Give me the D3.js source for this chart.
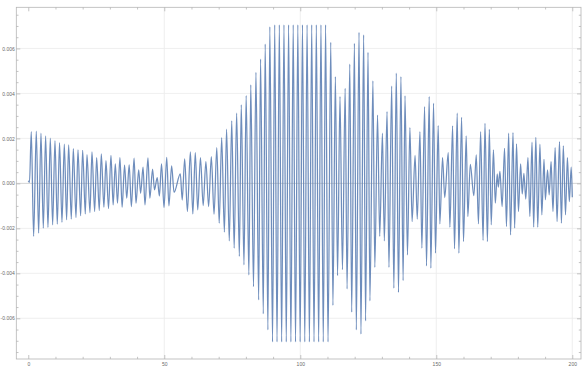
<!DOCTYPE html>
<html>
<head>
<meta charset="utf-8">
<script src="https://cdn.jsdelivr.net/npm/d3@7"></script>
<style>
  html, body { margin: 0; padding: 0; background: #fff; }
  svg { display: block; }
</style>
</head>
<body>
<div id="chart"></div>
<script>
// extrema of the signal (time, value)
const times = [
  0.00, 0.45, 1.11, 1.97, 2.95, 3.81, 4.67, 5.53, 6.38, 7.24, 8.10, 8.96, 9.82, 10.67, 11.50, 12.39,
  13.25, 14.10, 14.84, 15.82, 16.56, 17.54, 18.27, 19.25, 19.99, 20.97, 21.58, 22.68, 23.42, 24.40,
  25.14, 26.10, 26.85, 27.80, 28.57, 29.50, 30.40, 31.20, 32.00, 32.80, 33.70, 34.50, 35.40, 36.20,
  37.10, 37.90, 38.90, 39.60, 40.60, 41.30, 42.20, 42.90, 44.00, 44.70, 45.70, 46.40, 47.40, 48.20,
  49.00, 49.90, 50.90, 51.70, 52.70, 53.60, 55.90, 56.60, 57.50, 58.50, 59.60, 60.50, 61.40, 62.30,
  63.30, 64.30, 65.30, 66.30, 67.30, 68.30, 69.30, 70.20, 71.10, 72.10, 72.90, 73.90, 74.80, 75.70,
  76.60, 77.60, 78.30, 79.30, 80.10, 81.10, 81.80, 82.80, 83.70, 84.70, 85.40, 86.40, 87.10, 88.10,
  88.80, 89.80, 90.60, 91.45, 92.30, 93.15, 94.00, 94.85, 95.70, 96.55, 97.40, 98.25, 99.10, 99.95,
  100.80, 101.65, 102.50, 103.35, 104.20, 105.05, 105.90, 106.75, 107.60, 108.45, 109.30, 110.20,
  111.20, 112.00, 112.90, 113.70, 114.60, 115.50, 116.50, 117.20, 118.20, 118.90, 119.90, 120.60,
  121.60, 122.30, 123.30, 124.00, 124.90, 125.60, 126.70, 127.40, 128.40, 129.20, 130.20, 130.90,
  131.90, 132.60, 133.60, 134.40, 135.30, 136.10, 137.00, 137.80, 138.50, 139.40, 140.30, 141.10,
  142.20, 143.00, 144.00, 144.70, 145.70, 146.40, 147.40, 148.00, 149.00, 149.70, 150.70, 151.30,
  152.30, 153.10, 154.40, 155.00, 156.00, 156.70, 157.70, 158.30, 159.30, 160.00, 161.00, 161.60,
  162.50, 163.80, 164.70, 165.50, 166.30, 167.20, 167.90, 168.80, 169.50, 170.20, 171.00, 171.70,
  172.40, 172.80, 173.40, 174.20, 175.10, 175.80, 176.60, 177.30, 178.20, 178.80, 179.50, 180.20,
  181.00, 181.60, 182.20, 182.90, 183.70, 184.40, 185.20, 185.80, 186.60, 187.30, 188.10, 188.80,
  189.60, 190.10, 190.90, 191.50, 192.20, 192.90, 193.70, 194.40, 195.30, 196.00, 196.70, 197.50,
  198.20, 198.90, 199.60, 200.00
];
const values = [
  0.00012, 0.00005, 0.00230, -0.00236, 0.00232, -0.00221, 0.00223, -0.00199, 0.00211, -0.00196, 0.00201, -0.00184, 0.00190, -0.00181, 0.00181, -0.00173,
  0.00174, -0.00162, 0.00171, -0.00159, 0.00155, -0.00152, 0.00149, -0.00144, 0.00147, -0.00136, 0.00128, -0.00130, 0.00140, -0.00125,
  0.00115, -0.00121, 0.00131, -0.00106, 0.00101, -0.00112, 0.00124, -0.00096, 0.00087, -0.00088, 0.00115, -0.00106, 0.00081, -0.00066,
  0.00082, -0.00103, 0.00112, -0.00088, 0.00060, -0.00044, 0.00072, -0.00096, 0.00113, -0.00066, 0.00063, -0.00029, 0.00026, -0.00056,
  0.00087, -0.00107, 0.00116, -0.00100, 0.00078, -0.00040, 0.00042, -0.00074, 0.00109, -0.00125, 0.00140, -0.00136, 0.00137, -0.00118,
  0.00115, -0.00099, 0.00097, -0.00103, 0.00119, -0.00137, 0.00159, -0.00177, 0.00204, -0.00217, 0.00241, -0.00256, 0.00278, -0.00288,
  0.00312, -0.00325, 0.00349, -0.00362, 0.00390, -0.00407, 0.00438, -0.00459, 0.00494, -0.00518, 0.00553, -0.00580, 0.00619, -0.00651,
  0.00696, -0.00705, 0.00705, -0.00705, 0.00705, -0.00705, 0.00705, -0.00705, 0.00705, -0.00705, 0.00705, -0.00705, 0.00705, -0.00705,
  0.00705, -0.00705, 0.00705, -0.00705, 0.00705, -0.00705, 0.00705, -0.00705, 0.00705, -0.00705, 0.00705, -0.00705,
  0.00627, -0.00543, 0.00475, -0.00410, 0.00386, -0.00384, 0.00423, -0.00469, 0.00530, -0.00573, 0.00623, -0.00651,
  0.00672, -0.00670, 0.00660, -0.00611, 0.00583, -0.00522, 0.00456, -0.00374, 0.00304, -0.00236, 0.00223, -0.00256,
  0.00319, -0.00374, 0.00433, -0.00466, 0.00490, -0.00485, 0.00475, -0.00432, 0.00389, -0.00318, 0.00248, -0.00170,
  0.00124, -0.00159, 0.00230, -0.00288, 0.00341, -0.00367, 0.00386, -0.00377, 0.00356, -0.00310, 0.00257, -0.00180,
  0.00115, -0.00063, 0.00137, -0.00195, 0.00256, -0.00291, 0.00312, -0.00310, 0.00294, -0.00259, 0.00211, -0.00147,
  0.00085, -0.00055, 0.00127, -0.00180, 0.00230, -0.00254, 0.00267, -0.00259, 0.00240, -0.00184, 0.00149, -0.00088,
  0.00042, -0.00017, 0.00053, -0.00103, 0.00156, -0.00192, 0.00223, -0.00229, 0.00226, -0.00199, 0.00176, -0.00125,
  0.00087, -0.00047, 0.00045, -0.00070, 0.00115, -0.00147, 0.00183, -0.00195, 0.00205, -0.00195, 0.00174, -0.00140,
  0.00107, -0.00073, 0.00060, -0.00051, 0.00097, -0.00125, 0.00159, -0.00170, 0.00186, -0.00177, 0.00167, -0.00140,
  0.00115, -0.00081, 0.00072, -0.00062
];

const xMajorTicks = [0, 50, 100, 150, 200];
const xMinorTicks = d3.range(0, 201, 10);
const yMajorTicks = [-0.006, -0.004, -0.002, 0, 0.002, 0.004, 0.006];
const yMinorTicks = d3.range(-15, 16).map(d => d * 0.0005);

const width = 583, height = 369;
const frame = {left: 16.3, right: 581, top: 7.3, bottom: 359};

const svg = d3.select("#chart").append("svg")
  .attr("width", width)
  .attr("height", height);

const x = d3.scaleLinear().domain([-4.4, 203.2]).range([frame.left, frame.right]);
const y = d3.scaleLinear().domain([-0.00781, 0.00783]).range([frame.bottom, frame.top]);

// grid lines
svg.append("g").selectAll("line.gx")
  .data(xMajorTicks.filter(d => d !== 0))
  .enter().append("line")
  .attr("x1", d => x(d)).attr("x2", d => x(d))
  .attr("y1", frame.top).attr("y2", frame.bottom)
  .attr("stroke", "#ebebeb")
  .attr("stroke-width", 0.8);

svg.append("g").selectAll("line.gy")
  .data(yMajorTicks.filter(d => d !== 0))
  .enter().append("line")
  .attr("x1", frame.left).attr("x2", frame.right)
  .attr("y1", d => y(d)).attr("y2", d => y(d))
  .attr("stroke", "#ebebeb")
  .attr("stroke-width", 0.8);

// zero axis
svg.append("line")
  .attr("x1", frame.left).attr("x2", frame.right)
  .attr("y1", y(0)).attr("y2", y(0))
  .attr("stroke", "#cfcfcf")
  .attr("stroke-width", 0.9);

// signal
const line = d3.line()
  .x((d, i) => x(times[i]))
  .y(d => y(d))
  .curve(d3.curveMonotoneX);

svg.append("path")
  .datum(values)
  .attr("d", line)
  .attr("fill", "none")
  .attr("stroke", "#5e81b5")
  .attr("stroke-opacity", 0.9)
  .attr("stroke-width", 1.25)
  .attr("stroke-linejoin", "round");

// frame
const frameColor = "#b5b5b5";
svg.append("rect")
  .attr("x", frame.left).attr("y", frame.top)
  .attr("width", frame.right - frame.left)
  .attr("height", frame.bottom - frame.top)
  .attr("fill", "none")
  .attr("stroke", frameColor)
  .attr("stroke-width", 0.8);

function styleAxis(g) {
  g.select(".domain").remove();
  g.selectAll(".tick line").attr("stroke", frameColor).attr("stroke-width", 0.8);
  g.selectAll(".tick text")
    .attr("fill", "#6a6a6a")
    .style("font-size", "5px")
    .style("font-family", "'Liberation Sans', Arial, sans-serif");
}

const fmt = d => d.toFixed(3);

// major ticks with labels
svg.append("g")
  .attr("transform", `translate(0,${frame.bottom})`)
  .call(d3.axisBottom(x).tickValues(xMajorTicks).tickSize(-4).tickPadding(3.5).tickFormat(d3.format("d")))
  .call(styleAxis);

svg.append("g")
  .attr("transform", `translate(${frame.left},0)`)
  .call(d3.axisLeft(y).tickValues(yMajorTicks).tickSize(-4).tickPadding(1.5).tickFormat(fmt))
  .call(styleAxis);

// minor ticks on all four sides
const xMinorOnly = xMinorTicks.filter(d => !xMajorTicks.includes(d));
svg.append("g")
  .attr("transform", `translate(0,${frame.bottom})`)
  .call(d3.axisBottom(x).tickValues(xMinorOnly).tickSize(-2.2).tickFormat(""))
  .call(styleAxis);
svg.append("g")
  .attr("transform", `translate(0,${frame.top})`)
  .call(d3.axisTop(x).tickValues(xMinorOnly).tickSize(-2.2).tickFormat(""))
  .call(styleAxis);
svg.append("g")
  .attr("transform", `translate(0,${frame.top})`)
  .call(d3.axisTop(x).tickValues(xMajorTicks).tickSize(-4).tickFormat(""))
  .call(styleAxis);

const yMinorOnly = yMinorTicks.filter(d => !yMajorTicks.some(m => Math.abs(m - d) < 1e-9));
svg.append("g")
  .attr("transform", `translate(${frame.left},0)`)
  .call(d3.axisLeft(y).tickValues(yMinorOnly).tickSize(-2.2).tickFormat(""))
  .call(styleAxis);
svg.append("g")
  .attr("transform", `translate(${frame.right},0)`)
  .call(d3.axisRight(y).tickValues(yMinorOnly).tickSize(-2.2).tickFormat(""))
  .call(styleAxis);
svg.append("g")
  .attr("transform", `translate(${frame.right},0)`)
  .call(d3.axisRight(y).tickValues(yMajorTicks).tickSize(-4).tickFormat(""))
  .call(styleAxis);
</script>
</body>
</html>
